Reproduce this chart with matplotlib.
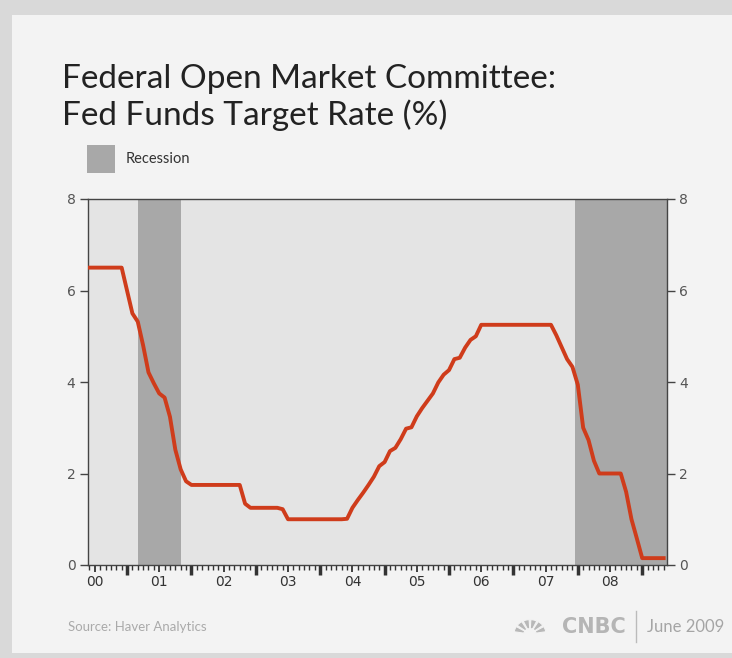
import matplotlib
matplotlib.use('Agg')
import matplotlib.pyplot as plt
import numpy as np
from matplotlib.patches import Rectangle, Wedge

# monthly fed funds target rate (%), May 2000 .. May 2009
start_year, start_month = 2000, 5
rate = [
    6.5, 6.5, 6.5, 6.5, 6.5, 6.5, 6.5, 6.5,                               # 2000 May-Dec
    6.0, 5.5, 5.32, 4.8, 4.21, 3.97, 3.75, 3.66, 3.24, 2.52, 2.09, 1.83,  # 2001
    1.75, 1.75, 1.75, 1.75, 1.75, 1.75, 1.75, 1.75, 1.75, 1.75, 1.34, 1.25,  # 2002
    1.25, 1.25, 1.25, 1.25, 1.25, 1.22, 1.0, 1.0, 1.0, 1.0, 1.0, 1.0,    # 2003
    1.0, 1.0, 1.0, 1.0, 1.0, 1.01, 1.25, 1.42, 1.58, 1.75, 1.93, 2.16,   # 2004
    2.25, 2.49, 2.56, 2.75, 2.98, 3.01, 3.25, 3.43, 3.59, 3.75, 3.99, 4.16,  # 2005
    4.26, 4.5, 4.53, 4.75, 4.92, 5.0, 5.25, 5.25, 5.25, 5.25, 5.25, 5.25,  # 2006
    5.25, 5.25, 5.25, 5.25, 5.25, 5.25, 5.25, 5.25, 5.02, 4.76, 4.5, 4.33,  # 2007
    3.94, 3.0, 2.73, 2.28, 2.0, 2.0, 2.0, 2.0, 2.0, 1.6, 1.0, 0.58,      # 2008
    0.15, 0.15, 0.15, 0.15, 0.15,                                         # 2009 Jan-May
]
recessions = [(2001 + 2/12, 2001 + 10/12), (2007.95, 2009.5)]
year_labels = ['00', '01', '02', '03', '04', '05', '06', '07', '08']
y_ticks = [0, 2, 4, 6, 8]

t = start_year + (start_month - 1) / 12 + np.arange(len(rate)) / 12

W, H = 732, 658
fig = plt.figure(figsize=(W / 100, H / 100), dpi=100)
fig.patch.set_facecolor('#d9d9d9')
# card
fig.patches.append(Rectangle((12/W, 5/H), 1, 1 - 20/H, transform=fig.transFigure,
                             facecolor='#f3f3f3', edgecolor='none', zorder=-10))

ax = fig.add_axes([88/W, 93/H, 579/W, 366/H])
ax.set_zorder(2)
ax.set_facecolor('#e4e4e4')
for a, b in recessions:
    ax.axvspan(a, b, color='#a8a8a8', lw=0, zorder=1)
ax.plot(t, rate, color='#cf3c1b', lw=2.8, solid_joinstyle='round', zorder=3)

x0, x1 = 2000.394, 2009.385
ax.set_xlim(x0, x1)
ax.set_ylim(0, 8)

for s in ax.spines.values():
    s.set_color('#444444')
    s.set_linewidth(1)

ax.set_yticks(y_ticks)
ax.tick_params(axis='y', which='both', left=True, right=True, labelleft=True, labelright=True,
               length=6, width=1, color='#444444', labelsize=10, labelcolor='#555555', pad=3)

# mid-year ticks carry the year labels, monthly minor ticks
mids = [2000.5 + i for i in range(len(year_labels))]
months = np.arange(2000 + 5/12, 2009.4, 1/12)
ax.set_xticks(mids, labels=year_labels)
ax.set_xticks(months, minor=True)
ax.tick_params(axis='x', which='major', length=5, width=1.3, color='#333333',
               labelsize=10, labelcolor='#333333', pad=2)
ax.tick_params(axis='x', which='minor', length=3.5, width=1, color='#333333')

# heavy ticks at each new year
sec = ax.secondary_xaxis('bottom')
sec.set_xticks(np.arange(2001, 2010), labels=[])
sec.tick_params(length=7, width=2.5, color='#333333')
sec.spines['bottom'].set_visible(False)

fig.text(62/W, 1 - 88/H, 'Federal Open Market Committee:', fontsize=24, family='Lato',
         color='#222222', va='baseline')
fig.text(62/W, 1 - 125/H, 'Fed Funds Target Rate (%)', fontsize=24, family='Lato',
         color='#222222', va='baseline')

fig.patches.append(Rectangle((87/W, 1 - 173/H), 28/W, 28/H, transform=fig.transFigure,
                             facecolor='#a8a8a8', edgecolor='none'))
fig.text(126/W, 1 - 159/H, 'Recession', fontsize=10.5, family='Lato', color='#333333', va='center')

fig.text(68/W, 1 - 627/H, 'Source: Haver Analytics', fontsize=9.5, family='Lato',
         color='#aaaaaa', va='center')
# peacock-ish logo
for ang in np.linspace(20, 160, 6):
    fig.patches.append(Wedge((530/W, 1 - 634/H), 16/W, ang - 11, ang + 11, width=10/W,
                             transform=fig.transFigure, facecolor='#b8b8b8', edgecolor='#f3f3f3', lw=0.8))
fig.text(626/W, 1 - 627/H, 'CNBC', fontsize=15, family='DejaVu Sans', weight='bold',
         color='#b5b5b5', va='center', ha='right')
fig.add_artist(plt.Line2D([636/W, 636/W], [1 - 642/H, 1 - 611/H], color='#bbbbbb', lw=1))
fig.text(647/W, 1 - 627/H, 'June 2009', fontsize=12, family='Lato', color='#a5a5a5', va='center')

plt.savefig('out.png', dpi=100, facecolor=fig.get_facecolor())
